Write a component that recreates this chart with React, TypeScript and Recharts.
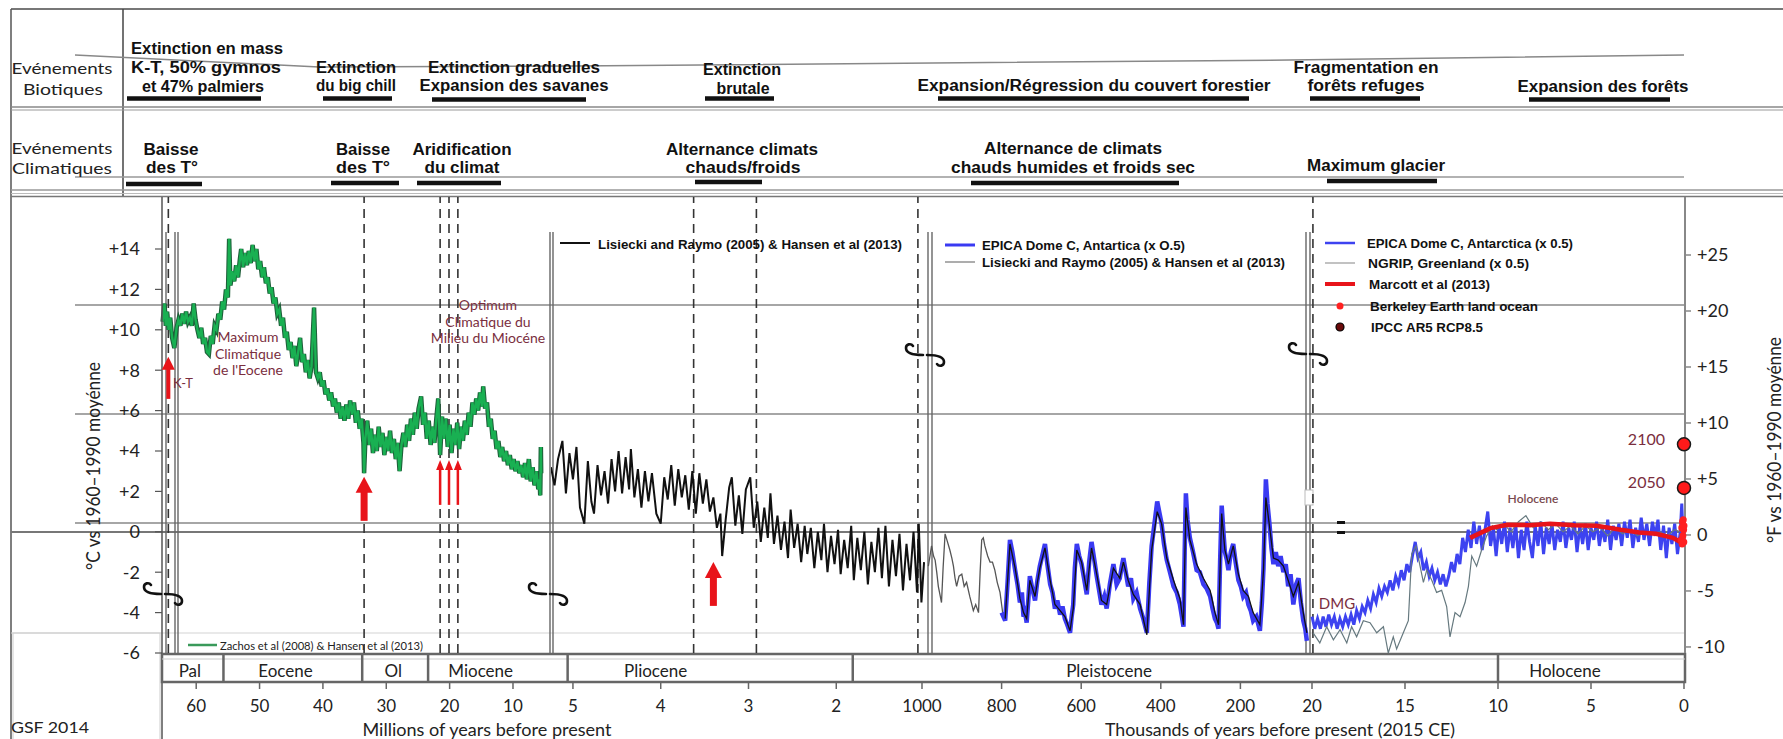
import React from 'react';
import { ComposedChart, Line, Scatter, XAxis, YAxis, ReferenceLine } from 'recharts';

// ---------------- DATA (age, °C anomaly) ----------------
// Panel 1: Cenozoic, millions of years (Zachos et al 2008 & Hansen et al 2013)
const zachosMyr: [number, number][] = [
  [65.3, 10.4], [65.0, 11.3], [64.8, 10.2], [64.6, 10.9], [64.35, 10.0], [64.1, 10.6], [63.8, 9.6], [63.45, 9.1],
  [63.1, 10.1], [62.8, 10.5], [62.5, 10.2], [62.2, 10.8], [61.9, 10.3], [61.6, 10.9], [61.3, 10.4], [61.0, 10.6],
  [60.7, 10.2], [60.4, 11.3], [60.1, 10.5], [59.8, 10.0], [59.5, 9.6], [59.2, 10.1], [58.9, 9.3], [58.6, 9.6],
  [58.3, 8.9], [58.0, 8.8], [57.7, 9.7], [57.4, 9.3], [57.1, 10.2], [56.8, 10.0], [56.5, 10.8], [56.2, 10.5],
  [55.9, 11.4], [55.6, 11.0], [55.3, 12.0], [55.0, 11.6], [54.8, 14.5], [54.6, 12.2], [54.3, 12.9], [54.0, 12.4],
  [53.7, 13.2], [53.4, 12.6], [53.1, 13.5], [52.9, 14.0], [52.6, 13.1], [52.3, 13.8], [52.0, 13.2], [51.7, 13.9],
  [51.4, 13.3], [51.1, 14.2], [50.8, 13.4], [50.5, 14.0], [50.2, 13.0], [49.9, 13.4], [49.6, 12.6], [49.3, 13.1],
  [49.0, 12.3], [48.7, 12.6], [48.4, 11.8], [48.1, 12.1], [47.8, 11.3], [47.5, 11.6], [47.2, 10.8], [46.9, 11.0],
  [46.6, 10.2], [46.3, 10.6], [46.0, 9.6], [45.7, 9.9], [45.4, 9.0], [45.1, 9.4], [44.8, 8.6], [44.5, 9.2],
  [44.2, 8.2], [43.9, 8.9], [43.6, 9.6], [43.3, 8.4], [43.0, 8.8], [42.7, 7.9], [42.4, 8.5], [42.1, 7.6],
  [41.8, 8.2], [41.4, 11.1], [41.1, 7.9], [40.8, 7.6], [40.5, 7.9], [40.2, 7.2], [39.9, 7.5], [39.6, 6.8],
  [39.3, 7.1], [39.0, 6.5], [38.7, 6.9], [38.4, 6.2], [38.1, 6.6], [37.8, 5.9], [37.5, 6.4], [37.2, 5.6],
  [36.9, 6.2], [36.6, 5.5], [36.3, 6.3], [36.0, 5.6], [35.7, 6.5], [35.4, 5.8], [35.1, 6.4], [34.8, 5.4],
  [34.5, 6.0], [34.2, 5.1], [33.9, 5.6], [33.6, 4.4], [33.5, 2.9], [33.3, 4.6], [33.0, 5.5], [32.7, 4.3],
  [32.4, 5.1], [32.1, 3.9], [31.8, 4.8], [31.5, 4.0], [31.2, 5.2], [30.9, 4.2], [30.6, 4.9], [30.3, 3.8],
  [30.0, 4.7], [29.7, 4.0], [29.4, 5.0], [29.1, 3.9], [28.8, 4.6], [28.5, 3.6], [28.2, 4.4], [27.9, 3.0],
  [27.6, 4.3], [27.3, 4.9], [27.0, 4.2], [26.7, 5.3], [26.4, 4.5], [26.1, 5.6], [25.8, 4.8], [25.5, 5.9],
  [25.2, 5.1], [24.9, 6.1], [24.5, 6.7], [24.2, 5.3], [23.9, 5.9], [23.6, 4.6], [23.3, 5.5], [23.0, 4.3],
  [22.7, 5.2], [22.4, 4.4], [22.1, 5.6], [21.8, 6.6], [21.5, 3.8], [21.2, 5.7], [20.9, 4.6], [20.6, 5.6],
  [20.3, 4.2], [20.0, 5.3], [19.7, 3.9], [19.4, 5.1], [19.1, 4.3], [18.8, 5.4], [18.5, 4.1], [18.2, 5.2],
  [17.9, 4.5], [17.6, 5.5], [17.3, 4.8], [17.0, 5.9], [16.7, 5.2], [16.4, 6.4], [16.1, 5.8], [15.8, 6.6],
  [15.5, 6.0], [15.2, 6.9], [14.9, 6.2], [14.7, 7.2], [14.4, 6.1], [14.1, 6.4], [13.8, 5.2], [13.5, 5.6],
  [13.2, 4.6], [12.9, 5.0], [12.6, 4.1], [12.3, 4.5], [12.0, 3.7], [11.7, 4.2], [11.4, 3.5], [11.1, 4.0],
  [10.8, 3.3], [10.5, 3.8], [10.2, 3.1], [9.9, 3.6], [9.6, 3.0], [9.3, 3.5], [9.0, 2.9], [8.7, 3.3],
  [8.4, 2.7], [8.1, 3.4], [7.8, 2.6], [7.5, 3.6], [7.2, 2.5], [6.9, 3.2], [6.6, 2.3], [6.3, 3.0],
  [6.0, 2.1], [5.8, 2.6], [5.7, 1.8], [5.6, 4.2], [5.55, 2.9],
];

// Panel 2: Pliocene, millions of years (Lisiecki & Raymo 2005 & Hansen et al 2013)
const lrPlioceneMyr: [number, number][] = [
  [5.25, 3.2], [5.21, 2.3], [5.17, 3.6], [5.12, 4.5], [5.08, 1.9], [5.04, 3.9], [5.0, 2.6], [4.96, 4.2],
  [4.92, 1.2], [4.87, 0.4], [4.83, 3.5], [4.79, 1.5], [4.76, 0.9], [4.72, 3.3], [4.68, 1.8], [4.64, 3.0],
  [4.6, 1.4], [4.56, 3.6], [4.52, 2.0], [4.48, 4.0], [4.44, 1.9], [4.4, 3.7], [4.36, 2.1], [4.34, 4.1],
  [4.3, 1.7], [4.26, 3.1], [4.22, 1.2], [4.18, 3.0], [4.14, 1.5], [4.1, 2.9], [4.05, 0.9], [4.0, 0.4],
  [3.96, 2.7], [3.92, 1.6], [3.88, 3.3], [3.84, 1.3], [3.8, 3.1], [3.76, 1.7], [3.72, 2.8], [3.68, 1.1],
  [3.64, 3.0], [3.6, 0.9], [3.56, 2.9], [3.52, 1.4], [3.48, 2.6], [3.44, 1.0], [3.4, 1.7], [3.36, 0.2],
  [3.32, 0.9], [3.3, -1.2], [3.26, 0.6], [3.22, 2.2], [3.19, 2.7], [3.15, 0.3], [3.11, 1.8], [3.07, -0.1],
  [3.03, 2.1], [2.98, 2.7], [2.94, 0.2], [2.9, 1.5], [2.86, -0.5], [2.82, 1.2], [2.78, -0.3], [2.75, 1.9],
  [2.71, -0.6], [2.67, 0.8], [2.63, -0.9], [2.59, 0.5], [2.55, -1.3], [2.52, 1.1], [2.48, -0.8], [2.44, 0.4],
  [2.4, -1.5], [2.36, 0.3], [2.33, -1.1], [2.29, 0.2], [2.25, -1.8], [2.21, 0.0], [2.17, -1.4], [2.14, 0.4],
  [2.1, -2.0], [2.06, -0.2], [2.02, -1.6], [1.98, 0.1], [1.95, -2.1], [1.91, -0.4], [1.87, -1.8], [1.83, 0.3],
  [1.8, -2.4], [1.76, -0.3], [1.72, -1.9], [1.68, 0.0], [1.64, -2.6], [1.6, -0.5], [1.56, -2.0], [1.52, 0.2],
  [1.48, -2.3], [1.44, 0.3], [1.4, -2.7], [1.36, -0.4], [1.32, -2.2], [1.28, -0.1], [1.24, -2.9], [1.2, -0.6],
  [1.16, -2.4], [1.12, 0.0], [1.08, -3.0], [1.06, 0.4], [1.03, -3.5], [1.0, -1.5],
];

// Panel 3: Pleistocene, thousands of years
const lrEarlyKyr: [number, number][] = [
  [984, -1.7], [980, -1.2], [976, -0.7], [971, -1.2], [967, -1.4], [963, -2.0], [959, -2.7], [955, -3.1],
  [951, -3.5], [947, -1.8], [942, -0.1], [936, -0.5], [930, -0.9], [925, -1.3], [921, -1.7], [917, -2.3],
  [913, -2.7], [907, -2.2], [900, -2.1], [894, -2.7], [888, -2.5], [880, -3.2], [871, -3.9], [865, -3.6],
  [858, -4.0], [854, -2.0], [850, -0.4], [846, -0.3], [842, -0.7], [835, -1.2], [829, -1.5], [823, -1.5],
  [817, -1.9], [811, -2.5], [804, -3.0], [800, -3.6], [796, -4.2], [791, -4.4],
];
const lrLateKyr: [number, number][] = [
  [791, -4.3], [779, -0.6], [766, -1.8], [754, -3.3], [745, -4.0], [737, -4.3], [729, -2.4], [716, -3.2],
  [704, -1.8], [691, -0.8], [678, -2.4], [666, -3.6], [653, -3.9], [641, -4.2], [628, -4.9], [620, -3.8],
  [611, -0.9], [599, -1.5], [586, -2.9], [574, -0.8], [561, -2.1], [549, -3.4], [536, -3.6], [519, -1.8],
  [503, -2.3], [494, -1.5], [482, -2.4], [469, -3.1], [452, -3.6], [435, -5.1], [423, -0.9], [409, 1.0],
  [398, 0.4], [385, -1.3], [368, -2.4], [352, -3.3], [343, -4.6], [337, 1.2], [327, -0.4], [310, -1.6],
  [293, -2.3], [276, -2.9], [264, -4.0], [255, -4.6], [247, 0.9], [239, -0.9], [230, -1.6], [218, -0.7],
  [205, -2.1], [193, -2.9], [180, -3.2], [168, -4.0], [151, -4.6], [142, -1.9], [136, 1.7], [127, 0.3],
  [117, -1.3], [105, -1.4], [92, -1.7], [80, -2.4], [67, -3.2], [54, -2.5], [42, -4.0], [33, -5.0],
];
const epicaKyr: [number, number][] = [
  [800, -4.0], [791, -4.4], [785, -2.5], [779, -0.4], [773, -1.0], [766, -1.9], [760, -2.6], [754, -3.5],
  [749, -3.0], [745, -4.2], [741, -4.0], [737, -4.5], [733, -3.4], [729, -2.2], [723, -2.8], [716, -3.4],
  [710, -2.4], [704, -1.7], [698, -1.2], [691, -0.6], [685, -1.6], [678, -2.6], [672, -3.0], [666, -3.8],
  [660, -3.4], [653, -4.1], [647, -3.7], [641, -4.3], [635, -4.6], [628, -5.0], [624, -4.2], [620, -3.6],
  [616, -1.8], [611, -0.6], [605, -1.2], [599, -1.6], [592, -2.4], [586, -3.1], [580, -1.5], [574, -0.5],
  [567, -1.4], [561, -2.2], [555, -2.9], [549, -3.6], [542, -3.2], [536, -3.8], [528, -2.6], [519, -1.6],
  [511, -2.6], [503, -2.3], [498, -1.7], [494, -1.3], [488, -2.0], [482, -2.7], [475, -2.3], [469, -3.3],
  [461, -3.0], [452, -3.8], [444, -4.3], [435, -5.0], [429, -2.6], [423, -0.7], [416, 0.4], [409, 1.5],
  [404, 1.0], [398, 0.4], [392, -0.6], [385, -1.4], [377, -2.0], [368, -2.7], [360, -3.0], [352, -3.6],
  [347, -4.2], [343, -4.7], [340, -1.0], [337, 1.9], [333, 0.6], [327, -0.3], [319, -1.0], [310, -1.9],
  [302, -2.0], [293, -2.6], [285, -2.8], [276, -3.2], [270, -3.8], [264, -4.3], [259, -4.5], [255, -4.8],
  [251, -1.5], [247, 1.3], [243, 0.1], [239, -1.0], [234, -1.4], [230, -1.9], [224, -1.0], [218, -0.6],
  [212, -1.5], [205, -2.4], [199, -2.7], [193, -3.2], [186, -3.0], [180, -3.6], [174, -3.9], [168, -4.4],
  [160, -4.2], [151, -4.9], [146, -3.5], [142, -1.8], [139, 0.5], [136, 2.6], [132, 1.4], [127, 0.4],
  [122, -0.8], [117, -1.6], [111, -1.0], [105, -1.7], [99, -1.2], [92, -2.0], [86, -1.6], [80, -2.7],
  [74, -2.1], [67, -3.6], [60, -2.6], [54, -2.3], [48, -3.5], [42, -4.4], [37, -4.8], [33, -5.4],
];

// Panel 4: last 20 000 years, thousands of years
const epicaHoloKyr: [number, number][] = [
  [20.0, -4.2], [19.85, -4.8], [19.7, -4.3], [19.55, -4.8], [19.4, -4.2], [19.25, -4.7], [19.1, -4.1], [18.95, -4.6],
  [18.8, -4.2], [18.65, -4.8], [18.5, -4.3], [18.35, -4.7], [18.2, -4.2], [18.05, -4.6], [17.9, -4.1], [17.75, -4.6],
  [17.6, -3.9], [17.45, -4.3], [17.3, -3.7], [17.15, -4.0], [17.0, -3.4], [16.85, -3.8], [16.7, -3.1], [16.55, -3.5],
  [16.4, -2.8], [16.25, -3.2], [16.1, -2.7], [15.95, -3.0], [15.8, -2.4], [15.65, -2.9], [15.5, -2.2], [15.35, -2.6],
  [15.2, -1.9], [15.05, -2.4], [14.9, -1.6], [14.75, -2.0], [14.6, -1.2], [14.45, -0.5], [14.3, -1.3], [14.15, -1.0],
  [14.0, -1.9], [13.85, -1.5], [13.7, -2.2], [13.55, -1.8], [13.4, -2.4], [13.25, -2.0], [13.1, -2.6], [12.95, -2.1],
  [12.8, -2.7], [12.65, -2.2], [12.5, -1.5], [12.35, -2.0], [12.2, -1.1], [12.05, -1.6], [11.9, -0.3], [11.75, -1.0],
  [11.6, 0.1], [11.45, -0.8], [11.3, 0.5], [11.15, -0.6], [11.0, 0.3], [10.85, -0.9], [10.7, 0.1], [10.55, 1.0],
  [10.4, -0.7], [10.25, 0.2], [10.1, -1.2], [9.95, 0.3], [9.8, -0.6], [9.65, 0.5], [9.5, -1.0], [9.35, 0.2],
  [9.2, -0.8], [9.05, 0.4], [8.9, -1.3], [8.75, 0.1], [8.6, -0.9], [8.45, 0.5], [8.3, -0.5], [8.15, -1.3],
  [8.0, 0.3], [7.85, -0.7], [7.7, 0.5], [7.55, -1.1], [7.4, 0.2], [7.25, -0.6], [7.1, 0.4], [6.95, -0.9],
  [6.8, 0.1], [6.65, -0.5], [6.5, 0.5], [6.35, -0.8], [6.2, 0.2], [6.05, -0.4], [5.9, 0.5], [5.75, -1.0],
  [5.6, 0.3], [5.45, -0.6], [5.3, 0.4], [5.15, -0.9], [5.0, 0.2], [4.85, -0.4], [4.7, 0.5], [4.55, -0.7],
  [4.4, 0.2], [4.25, -0.5], [4.1, 0.6], [3.95, -0.9], [3.8, 0.3], [3.65, -0.4], [3.5, 0.4], [3.35, -0.7],
  [3.2, 0.5], [3.05, -0.3], [2.9, 0.6], [2.75, -0.8], [2.6, 0.2], [2.45, -0.5], [2.3, 0.7], [2.15, -0.4],
  [2.0, 0.4], [1.85, -0.7], [1.7, 0.5], [1.55, -0.2], [1.4, 0.6], [1.25, -0.9], [1.1, 0.3], [0.95, -1.3],
  [0.8, 0.2], [0.65, -0.6], [0.5, 0.4], [0.35, -1.1], [0.2, 0.0], [0.12, 1.4], [0.05, -0.3],
];
const ngripKyr: [number, number][] = [
  [19.94, -5.0], [19.58, -5.5], [19.21, -4.7], [18.85, -5.35], [18.49, -4.85], [18.13, -5.5], [17.87, -4.7], [17.6, -5.2],
  [17.24, -4.4], [16.88, -4.5], [16.52, -5.0], [16.16, -4.7], [15.9, -6.0], [15.63, -5.2], [15.45, -5.8], [15.09, -5.0],
  [14.82, -4.4], [14.64, -1.1], [14.41, -0.7], [14.19, -1.7], [14.01, -2.5], [13.83, -1.9], [13.56, -2.4], [13.3, -3.0],
  [13.03, -2.9], [12.76, -3.7], [12.58, -5.2], [12.31, -4.0], [12.04, -4.2], [11.77, -3.5], [11.59, -2.7], [11.41, -1.2],
  [11.15, -1.7], [10.88, -0.9], [10.61, -0.2], [10.3, 0.3], [10.07, 0.1], [9.7, 0.4], [9.3, 0.0], [8.9, 0.5],
  [8.5, 0.8], [8.1, 0.2], [7.7, 0.5], [7.3, 0.1], [6.9, 0.4], [6.5, 0.0], [6.1, 0.3], [5.7, -0.1],
  [5.3, 0.3], [4.9, 0.0], [4.5, 0.2], [4.1, -0.2], [3.7, 0.2], [3.3, -0.1], [2.9, 0.1], [2.5, -0.2],
  [2.1, 0.0], [1.7, -0.1], [1.3, 0.0], [0.9, -0.2], [0.5, 0.1], [0.2, 0.0],
];
const marcottKyr: [number, number][] = [
  [11.5, -0.3], [10.4, 0.18], [9.5, 0.35], [8.3, 0.33], [7.2, 0.4], [5.9, 0.33], [4.7, 0.3], [3.4, 0.1],
  [2.4, -0.03], [1.5, -0.1], [0.6, -0.3], [0.2, -0.5],
];
const berkeleyKyr: [number, number][] = [
  [0.15, -0.4], [0.12, 0.2], [0.1, -0.6], [0.08, 0.5], [0.06, -0.2], [0.04, 0.6], [0.02, 0.1], [0.01, -0.5], [0.0, 0.3],
];
// IPCC AR5 RCP8.5 projections (°F anomaly)
const ipccF: [number, number, string][] = [[0, 8.1, '2100'], [0, 4.2, '2050']];

// event markers (ages)
const dashedMyr = [64.4, 33.5, 21.5, 20.1, 18.7];
const dashedPlioMyr = [3.625, 2.91, 1.07];
const dashedHoloKyr = [19.95];
const arrowMedMyr: [number, number][] = [[64.4, 8.66]];
const arrowBigMyr: [number, number][] = [[33.5, 2.72]];
const arrowThinMyr: [number, number][] = [[21.5, 3.56], [20.1, 3.56], [18.7, 3.56]];
const arrowBigPlioMyr: [number, number][] = [[3.4, -1.49]];

// tick labels
const ticksMyr = [60, 50, 40, 30, 20, 10];
const ticksPlioMyr = [5, 4, 3, 2];
const ticksKyr = [1000, 800, 600, 400, 200];
const ticksHoloKyr = [20, 15, 10, 5, 0];
const ticksC = [-6, -4, -2, 0, 2, 4, 6, 8, 10, 12, 14];
const ticksF = [-10, -5, 0, 5, 10, 15, 20, 25];

// geological epochs: boundaries and labels (panel, age)
const epochBounds: [string, number][] = [['p1', 55.7], ['p1', 33.8], ['p1', 23.4], ['p2', 5.05], ['p2', 1.81], ['p4', 10]];
const epochLabels: [string, string, number][] = [
  ['Pal', 'p1', 61.0], ['Eocene', 'p1', 45.9], ['Ol', 'p1', 28.9], ['Miocene', 'p1', 15.1],
  ['Pliocene', 'p2', 4.05], ['Pleistocene', 'p3', 530], ['Holocene', 'p4', 6.4],
];

// ---------------- LAYOUT ----------------
const W = 1783;
const H = 739;
const PLOT_TOP = 197;
const PLOT_BOTTOM = 653;
const C_MIN = -6;
const C_MAX = -6 + (PLOT_BOTTOM - PLOT_TOP) / 20.2;
const F_DOMAIN: [number, number] = [-10.54, 30.18];

type Panel = { x0: number; x1: number; tMax: number; tMin: number };
const PANELS: Record<string, Panel> = {
  p1: { x0: 162, x1: 551, tMax: 65.4, tMin: 4.0 },
  p2: { x0: 551, x1: 928, tMax: 5.239, tMin: 0.955 },
  p3: { x0: 890, x1: 1309, tMax: 1080.4, tMin: 27.64 },
  p4: { x0: 1280, x1: 1685, tMax: 21.72, tMin: -0.054 },
};
const xOf = (p: string, t: number) => {
  const P = PANELS[p];
  return P.x0 + ((P.tMax - t) / (P.tMax - P.tMin)) * (P.x1 - P.x0);
};

const NUM_FONT = "Lato, 'Open Sans', sans-serif";
const BOLD_FONT = "'Liberation Sans', Arial, sans-serif";
const RED = '#e8141a';
const BROWN = '#7a2e3e';

const pts = (a: [number, number][]) => a.map(([t, v]) => ({ t, v }));

const BottomTick = (props: any) => {
  const { x, y, payload } = props;
  return (
    <g>
      <line x1={x} x2={x} y1={y + 29} y2={y + 36} stroke="#666" strokeWidth={1.5} />
      <text x={x} y={y + 52} textAnchor="middle" dominantBaseline="central" fontFamily={NUM_FONT} fontSize={17} fill="#222">
        {payload.value}
      </text>
    </g>
  );
};

const makeArrow = (shaft: number, head: number, headH: number, len: number) => (props: any) => {
  const { cx, cy } = props;
  if (cx == null || cy == null) return <g />;
  return (
    <g>
      <rect x={cx - shaft / 2} y={cy + headH - 1} width={shaft} height={len - headH + 1} fill={RED} />
      <polygon points={`${cx},${cy} ${cx - head / 2},${cy + headH} ${cx + head / 2},${cy + headH}`} fill={RED} />
    </g>
  );
};
const arrowBig = makeArrow(7, 17, 16, 44);
const arrowMed = makeArrow(4, 13, 13, 42);
const arrowThin = makeArrow(2.5, 8, 10, 45);

const ipccShape = (props: any) => {
  const { cx, cy, payload } = props;
  if (cx == null || cy == null) return <g />;
  return (
    <g>
      <circle cx={cx} cy={cy} r={6.5} fill="#ff1a1a" stroke="#1a1a1a" strokeWidth={1.5} />
      <text x={cx - 19} y={cy - 6} textAnchor="end" dominantBaseline="central" fontFamily={NUM_FONT} fontSize={16} fill={BROWN}>
        {payload.label}
      </text>
    </g>
  );
};
const berkeleyShape = (props: any) => {
  const { cx, cy } = props;
  if (cx == null || cy == null) return <g />;
  return <circle cx={cx} cy={cy} r={3.5} fill="#ff2020" />;
};

const dashProps = { stroke: '#333', strokeDasharray: '9 6', strokeWidth: 1.6 };

const xAxisFor = (p: string, ticks: number[]) => (
  <XAxis
    dataKey="t"
    type="number"
    domain={[PANELS[p].tMin, PANELS[p].tMax]}
    reversed
    ticks={ticks}
    interval={0}
    axisLine={false}
    tickLine={false}
    tickSize={0}
    tickMargin={0}
    height={H - PLOT_BOTTOM}
    tick={<BottomTick />}
  />
);

const chartMargin = { top: PLOT_TOP, right: 0, bottom: 0, left: 0 };

// header texts: [text, centerX, centerY, width]
const headerTexts: [string, number, number, number][] = [
  ['Extinction en mass', 207, 48, 152],
  ['K-T, 50% gymnos', 206, 67, 150],
  ['et 47% palmiers', 203, 86, 122],
  ['Extinction', 356, 67, 80],
  ['du big chill', 356, 85, 80],
  ['Extinction graduelles', 514, 67, 172],
  ['Expansion des savanes', 514, 85, 189],
  ['Extinction', 742, 69, 78],
  ['brutale', 743, 88, 53],
  ['Expansion/Régression du couvert forestier', 1094, 85, 353],
  ['Fragmentation en', 1366, 67, 145],
  ['forêts refuges', 1366, 85, 117],
  ['Expansion des forêts', 1603, 86, 171],
  ['Baisse', 171, 149, 55],
  ['des T°', 172, 167, 52],
  ['Baisse', 363, 149, 54],
  ['des T°', 363, 167, 54],
  ['Aridification', 462, 149, 99],
  ['du climat', 462, 167, 75],
  ['Alternance climats', 742, 149, 152],
  ['chauds/froids', 743, 167, 115],
  ['Alternance de climats', 1073, 148, 178],
  ['chauds  humides et froids sec', 1073, 167, 244],
  ['Maximum glacier', 1376, 165, 138],
];
// header bars: [x1, x2, y]
const headerBars: [number, number, number][] = [
  [127, 261, 98.5], [323, 392, 98.5], [432, 586, 99.5], [705, 774, 98.5], [938, 1249, 98.5], [1310, 1420, 98.5], [1529, 1670, 99.5],
  [126, 202, 184], [331, 399, 183], [417, 501, 183], [695, 762, 182], [971, 1179, 183], [1327, 1437, 181],
];

const Squiggle = ({ cx, cy }: { cx: number; cy: number }) => (
  <g fill="none" stroke="#111" strokeWidth={2.6} strokeLinecap="round">
    <path d={`M ${cx - 2} ${cy} C ${cx - 10} ${cy}, ${cx - 19} ${cy - 1}, ${cx - 19} ${cy - 7} C ${cx - 19} ${cy - 11}, ${cx - 14} ${cy - 12}, ${cx - 12} ${cy - 9}`} />
    <path d={`M ${cx + 2} ${cy} C ${cx + 10} ${cy}, ${cx + 19} ${cy + 1}, ${cx + 19} ${cy + 7} C ${cx + 19} ${cy + 11}, ${cx + 14} ${cy + 12}, ${cx + 12} ${cy + 9}`} />
  </g>
);

const LegText = ({ x, y, w, children, size = 13.5 }: any) => (
  <text x={x} y={y} dominantBaseline="central" fontFamily={BOLD_FONT} fontWeight="bold" fontSize={size} fill="#111" textLength={w} lengthAdjust="spacingAndGlyphs">
    {children}
  </text>
);

export default function App() {
  const abs = (left: number): React.CSSProperties => ({ position: 'absolute', left, top: 0 });
  return (
    <div style={{ position: 'absolute', left: 0, top: 0, width: W, height: H, background: '#fff', overflow: 'hidden' }}>
      {/* background decorations */}
      <svg width={W} height={H} style={{ position: 'absolute', left: 0, top: 0 }}>
        {/* frame and header rows */}
        <line x1={11} x2={W} y1={9} y2={9} stroke="#777" strokeWidth={2} />
        <line x1={11} x2={11} y1={9} y2={H} stroke="#555" strokeWidth={1.5} />
        <line x1={123} x2={123} y1={9} y2={197} stroke="#444" strokeWidth={1.5} />
        <line x1={11} x2={W} y1={107} y2={107} stroke="#888" strokeWidth={1.5} />
        <line x1={11} x2={W} y1={110} y2={110} stroke="#999" strokeWidth={1.2} />
        <polyline points="75,55 319,67 574,66 1289,60 1684,55" fill="none" stroke="#888" strokeWidth={1.5} />
        <line x1={75} x2={1684} y1={177} y2={177} stroke="#999" strokeWidth={1.5} />
        <line x1={11} x2={W} y1={190} y2={190} stroke="#999" strokeWidth={1.5} />
        <line x1={11} x2={W} y1={193.5} y2={193.5} stroke="#bbb" strokeWidth={1} />
        <line x1={11} x2={W} y1={196.5} y2={196.5} stroke="#777" strokeWidth={1.5} />
        {/* horizontal guide lines in the plot */}
        <line x1={75} x2={1685} y1={305} y2={305} stroke="#888" strokeWidth={1.5} />
        <line x1={75} x2={1685} y1={414} y2={414} stroke="#888" strokeWidth={1.5} />
        <line x1={75} x2={1685} y1={523} y2={523} stroke="#888" strokeWidth={1.5} />
        <line x1={11} x2={1685} y1={532} y2={532} stroke="#777" strokeWidth={2} />
        <line x1={11} x2={1685} y1={633} y2={633} stroke="#d4d4d4" strokeWidth={1.2} />
        <rect x={13} y={633} width={147} height={110} fill="none" stroke="#ccc" strokeWidth={1} />
        {/* panel separators (double lines) */}
        {[166, 175, 178, 550, 553, 928, 932, 1306, 1310].map((x, i) => (
          <line key={i} x1={x} x2={x} y1={232} y2={PLOT_BOTTOM} stroke="#666" strokeWidth={1.4} />
        ))}
        {/* left axis extension */}
        <line x1={162} x2={162} y1={PLOT_BOTTOM} y2={H} stroke="#555" strokeWidth={1.5} />
        {/* epoch band */}
        <rect x={162} y={654} width={1685 - 162} height={28} fill="#fff" stroke="#666" strokeWidth={2.5} />
        <line x1={162} x2={1685} y1={659} y2={659} stroke="#ccc" strokeWidth={1.2} />
        {epochBounds.map(([p, t], i) => (
          <line key={i} x1={xOf(p, t)} x2={xOf(p, t)} y1={654} y2={682} stroke="#666" strokeWidth={2.5} />
        ))}
        {epochLabels.map(([name, p, t], i) => (
          <text key={i} x={xOf(p, t)} y={670} textAnchor="middle" dominantBaseline="central" fontFamily={NUM_FONT} fontSize={17} fill="#222">
            {name}
          </text>
        ))}
        {/* small artefacts */}
        <rect x={1305} y={490} width={8} height={15} fill="#fff" stroke="#bbb" strokeWidth={1} />
      </svg>

      {/* Panel 1: Cenozoic */}
      <div style={abs(0)}>
        <ComposedChart width={551} height={H} margin={chartMargin}>
          {xAxisFor('p1', ticksMyr)}
          <YAxis
            type="number"
            domain={[C_MIN, C_MAX]}
            ticks={ticksC}
            interval={0}
            width={162}
            tickFormatter={(v: number) => (v > 0 ? `+${v}` : `${v}`)}
            axisLine={{ stroke: '#555', strokeWidth: 1.5 }}
            tickLine={{ stroke: '#555', strokeWidth: 1.2 }}
            tickSize={7}
            tickMargin={15}
            tick={{ fill: '#222', fontSize: 18, fontFamily: NUM_FONT }}
          />
          {dashedMyr.map((t) => (
            <ReferenceLine key={t} x={t} {...dashProps} />
          ))}
          <Line data={pts(zachosMyr)} dataKey="v" stroke="#1f5f3a" strokeWidth={4.5} dot={false} isAnimationActive={false} />
          <Line data={pts(zachosMyr)} dataKey="v" stroke="#19b052" strokeWidth={2.4} dot={false} isAnimationActive={false} />
          <Scatter data={pts(arrowMedMyr)} dataKey="v" shape={arrowMed} isAnimationActive={false} />
          <Scatter data={pts(arrowBigMyr)} dataKey="v" shape={arrowBig} isAnimationActive={false} />
          <Scatter data={pts(arrowThinMyr)} dataKey="v" shape={arrowThin} isAnimationActive={false} />
        </ComposedChart>
      </div>

      {/* Panel 2: Pliocene */}
      <div style={abs(551)}>
        <ComposedChart width={377} height={H} margin={chartMargin}>
          {xAxisFor('p2', ticksPlioMyr)}
          <YAxis hide type="number" domain={[C_MIN, C_MAX]} />
          {dashedPlioMyr.map((t) => (
            <ReferenceLine key={t} x={t} {...dashProps} />
          ))}
          <Line data={pts(lrPlioceneMyr)} dataKey="v" stroke="#111" strokeWidth={2} dot={false} isAnimationActive={false} />
          <Scatter data={pts(arrowBigPlioMyr)} dataKey="v" shape={arrowBig} isAnimationActive={false} />
        </ComposedChart>
      </div>

      {/* Panel 3: Pleistocene (kyr) */}
      <div style={abs(890)}>
        <ComposedChart width={419} height={H} margin={chartMargin}>
          {xAxisFor('p3', ticksKyr)}
          <YAxis hide type="number" domain={[C_MIN, C_MAX]} />
          <Line data={pts(lrEarlyKyr)} dataKey="v" stroke="#555" strokeWidth={1.3} dot={false} isAnimationActive={false} />
          <Line data={pts(epicaKyr)} dataKey="v" stroke="#3a3af2" strokeWidth={4.5} dot={false} isAnimationActive={false} />
          <Line data={pts(lrLateKyr)} dataKey="v" stroke="#111" strokeWidth={1.3} dot={false} isAnimationActive={false} />
        </ComposedChart>
      </div>

      {/* Panel 4: last 20 kyr */}
      <div style={abs(1280)}>
        <ComposedChart width={503} height={H} margin={chartMargin}>
          {xAxisFor('p4', ticksHoloKyr)}
          <YAxis yAxisId="c" hide type="number" domain={[C_MIN, C_MAX]} />
          <YAxis
            yAxisId="f"
            orientation="right"
            type="number"
            domain={F_DOMAIN}
            allowDataOverflow
            ticks={ticksF}
            interval={0}
            width={98}
            tickFormatter={(v: number) => (v > 0 ? `+${v}` : `${v}`)}
            axisLine={{ stroke: '#888', strokeWidth: 2 }}
            tickLine={{ stroke: '#888', strokeWidth: 1.5 }}
            tickSize={6}
            tickMargin={6}
            tick={{ fill: '#222', fontSize: 18, fontFamily: NUM_FONT }}
          />
          {dashedHoloKyr.map((t) => (
            <ReferenceLine key={t} yAxisId="c" x={t} {...dashProps} />
          ))}
          <Line yAxisId="c" data={pts(epicaHoloKyr)} dataKey="v" stroke="#3d43f0" strokeWidth={3} dot={false} isAnimationActive={false} />
          <Line yAxisId="c" data={pts(ngripKyr)} dataKey="v" stroke="#66797f" strokeWidth={1.2} dot={false} isAnimationActive={false} />
          <Line yAxisId="c" data={pts(marcottKyr)} dataKey="v" stroke={RED} strokeWidth={4.5} dot={false} isAnimationActive={false} />
          <Scatter yAxisId="c" data={pts(berkeleyKyr)} dataKey="v" shape={berkeleyShape} isAnimationActive={false} />
          <Scatter yAxisId="f" data={ipccF.map(([t, v, label]) => ({ t, v, label }))} dataKey="v" shape={ipccShape} isAnimationActive={false} />
        </ComposedChart>
      </div>

      {/* foreground texts and marks */}
      <svg width={W} height={H} style={{ position: 'absolute', left: 0, top: 0, pointerEvents: 'none' }}>
        {/* row labels */}
        <text x={62} y={67} textAnchor="middle" dominantBaseline="central" fontFamily={NUM_FONT} fontSize={16} fill="#222" textLength={101} lengthAdjust="spacingAndGlyphs">Evénements</text>
        <text x={63} y={88} textAnchor="middle" dominantBaseline="central" fontFamily={NUM_FONT} fontSize={16} fill="#222" textLength={80} lengthAdjust="spacingAndGlyphs">Biotiques</text>
        <text x={62} y={147} textAnchor="middle" dominantBaseline="central" fontFamily={NUM_FONT} fontSize={16} fill="#222" textLength={101} lengthAdjust="spacingAndGlyphs">Evénements</text>
        <text x={62} y={167} textAnchor="middle" dominantBaseline="central" fontFamily={NUM_FONT} fontSize={16} fill="#222" textLength={100} lengthAdjust="spacingAndGlyphs">Climatiques</text>
        {headerTexts.map(([s, cx, cy, w], i) => (
          <text key={i} x={cx} y={cy} textAnchor="middle" dominantBaseline="central" fontFamily={BOLD_FONT} fontWeight="bold" fontSize={16} fill="#111" textLength={w} lengthAdjust="spacingAndGlyphs">
            {s}
          </text>
        ))}
        {headerBars.map(([a, b, y], i) => (
          <line key={i} x1={a} x2={b} y1={y} y2={y} stroke="#111" strokeWidth={4.5} />
        ))}

        {/* axis titles */}
        <text transform="translate(92,466) rotate(-90)" textAnchor="middle" dominantBaseline="central" fontFamily={NUM_FONT} fontSize={19} fill="#222" textLength={208} lengthAdjust="spacingAndGlyphs">°C vs 1960–1990 moyénne</text>
        <text transform="translate(1773,440) rotate(-90)" textAnchor="middle" dominantBaseline="central" fontFamily={NUM_FONT} fontSize={19} fill="#222" textLength={206} lengthAdjust="spacingAndGlyphs">°F vs 1960–1990 moyénne</text>
        <text x={487} y={729} textAnchor="middle" dominantBaseline="central" fontFamily={NUM_FONT} fontSize={17} fill="#222" textLength={249} lengthAdjust="spacingAndGlyphs">Millions of years before present</text>
        <text x={1280} y={729} textAnchor="middle" dominantBaseline="central" fontFamily={NUM_FONT} fontSize={17} fill="#222" textLength={350} lengthAdjust="spacingAndGlyphs">Thousands of years before present (2015 CE)</text>
        <text x={11} y={727} dominantBaseline="central" fontFamily={NUM_FONT} fontSize={15} fill="#222" textLength={78} lengthAdjust="spacingAndGlyphs">GSF 2014</text>

        {/* annotations */}
        <g fontFamily={NUM_FONT} fontSize={14} fill={BROWN} textAnchor="middle" dominantBaseline="central">
          <text x={248} y={336}>Maximum</text>
          <text x={248} y={353}>Climatique</text>
          <text x={248} y={369}>de l'Eocene</text>
          <text x={488} y={304}>Optimum</text>
          <text x={488} y={321}>Climatique du</text>
          <text x={488} y={337}>Milieu du Miocéne</text>
          <text x={183} y={383} fontSize={13}>K-T</text>
          <text x={1337} y={603} fontSize={15}>DMG</text>
          <text x={1533} y={498} fontSize={12} fontWeight={600} fill="#7a4a50">Holocene</text>
        </g>

        {/* legends */}
        <line x1={188} x2={217} y1={645} y2={645} stroke="#3a9a5a" strokeWidth={2.5} />
        <text x={220} y={645} dominantBaseline="central" fontFamily={NUM_FONT} fontSize={11.5} fill="#222" textLength={203} lengthAdjust="spacingAndGlyphs">Zachos et al (2008) &amp; Hansen et al (2013)</text>

        <line x1={560} x2={590} y1={243} y2={243} stroke="#111" strokeWidth={2} />
        <LegText x={598} y={244} w={304}>Lisiecki and Raymo (2005) &amp; Hansen et al (2013)</LegText>

        <line x1={945} x2={975} y1={245} y2={245} stroke="#3a3af2" strokeWidth={3} />
        <LegText x={982} y={245} w={203}>EPICA Dome C, Antartica (x O.5)</LegText>
        <line x1={945} x2={975} y1={262} y2={262} stroke="#777" strokeWidth={1.2} />
        <LegText x={982} y={262} w={303}>Lisiecki and Raymo (2005) &amp; Hansen et al (2013)</LegText>

        <line x1={1325} x2={1355} y1={243} y2={243} stroke="#3d43f0" strokeWidth={2.5} />
        <LegText x={1367} y={243} w={206}>EPICA Dome C, Antarctica (x 0.5)</LegText>
        <line x1={1325} x2={1355} y1={263} y2={263} stroke="#999" strokeWidth={1.2} />
        <LegText x={1368} y={263} w={161}>NGRIP, Greenland (x 0.5)</LegText>
        <line x1={1325} x2={1355} y1={284} y2={284} stroke={RED} strokeWidth={4} />
        <LegText x={1369} y={284} w={121}>Marcott et al (2013)</LegText>
        <circle cx={1340} cy={306} r={3.5} fill="#ff2020" />
        <LegText x={1370} y={306} w={168}>Berkeley Earth land ocean</LegText>
        <circle cx={1340} cy={327} r={4} fill="#6a0a0a" stroke="#000" strokeWidth={1.2} />
        <LegText x={1371} y={327} w={112}>IPCC AR5 RCP8.5</LegText>

        {/* axis break symbols */}
        <Squiggle cx={163} cy={594} />
        <Squiggle cx={548} cy={594} />
        <Squiggle cx={925} cy={355} />
        <Squiggle cx={1308} cy={354} />
        <rect x={1337} y={521} width={8} height={3} fill="#111" />
        <rect x={1337} y={531} width={8} height={3} fill="#111" />
      </svg>
    </div>
  );
}
